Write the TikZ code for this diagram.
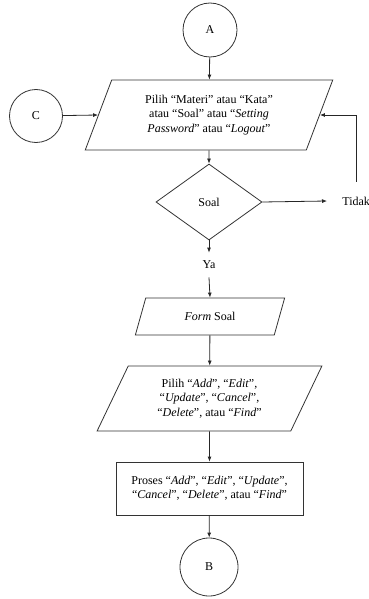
\documentclass[tikz,border=0pt]{standalone}
\usepackage{fontspec}
\setmainfont{Liberation Serif}
\usetikzlibrary{shapes.geometric,arrows.meta}
\begin{document}
\begin{tikzpicture}[x=1pt,y=-1pt,
  line width=0.8pt,
  every node/.style={font=\fontsize{12}{14.5}\selectfont, align=center, inner sep=0pt, text=black},
  conn/.style={draw=black!85, -{Latex[length=5pt,width=4pt]}},
  term/.style={circle, draw=black!80},
  io/.style={trapezium, draw=black!80, trapezium stretches=true,
    trapezium left angle=#1, trapezium right angle=180-#1},
  proc/.style={rectangle, draw=black!80},
  choice/.style={diamond, draw=black!80},
]
\useasboundingbox (0,0) rectangle (369,599);

% connectors on the page
\node[term, minimum size=54pt] (A) at (210,30) {A};
\node[term, minimum size=53pt] (C) at (36,116) {C};

% menu selection
\node[io=66.5, minimum width=248pt, minimum height=70pt] (menu) at (209,115)
  {Pilih “Materi” atau “Kata”\\atau “Soal” atau “\textit{Setting}\\\textit{Password}” atau “\textit{Logout}”};

% decision
\node[choice, minimum width=106pt, minimum height=76pt] (soal) at (209,202) {Soal};
\node[minimum height=24pt] (ya) at (209,265) {Ya};
\node[inner xsep=15pt, minimum height=38pt, anchor=west] (tidak) at (327,201) {Tidak};

% form and actions
\node[io=64, minimum width=150pt, minimum height=37pt] (form) at (210,316.5) {\textit{Form} Soal};
\node[io=63, minimum width=225pt, minimum height=65pt] (aksi) at (209.5,398.5)
  {Pilih “\textit{Add}”, “\textit{Edit}”,\\“\textit{Update}”, “\textit{Cancel}”,\\“\textit{Delete}”, atau “\textit{Find}”};
\node[proc, minimum width=187pt, minimum height=53pt] (proses) at (209.5,488.5)
  {Proses “\textit{Add}”, “\textit{Edit}”, “\textit{Update}”,\\“\textit{Cancel}”, “\textit{Delete}”, atau “\textit{Find}”};
\node[term, minimum size=58pt] (B) at (209,567) {B};

% flow
\draw[conn] (A) -- (menu);
\draw[conn] (C) -- (menu.west);
\draw[conn] (menu) -- (soal);
\draw[conn] (soal.east) -- (tidak.west);
\draw[conn] (tidak.north) |- (menu.east);
\draw[conn] (soal.south) -- (ya.north);
\draw[conn] (ya.south) -- (form.north);
\draw[conn] (form) -- (aksi);
\draw[conn] (aksi) -- (proses);
\draw[conn] (proses) -- (B);
\end{tikzpicture}
\end{document}
